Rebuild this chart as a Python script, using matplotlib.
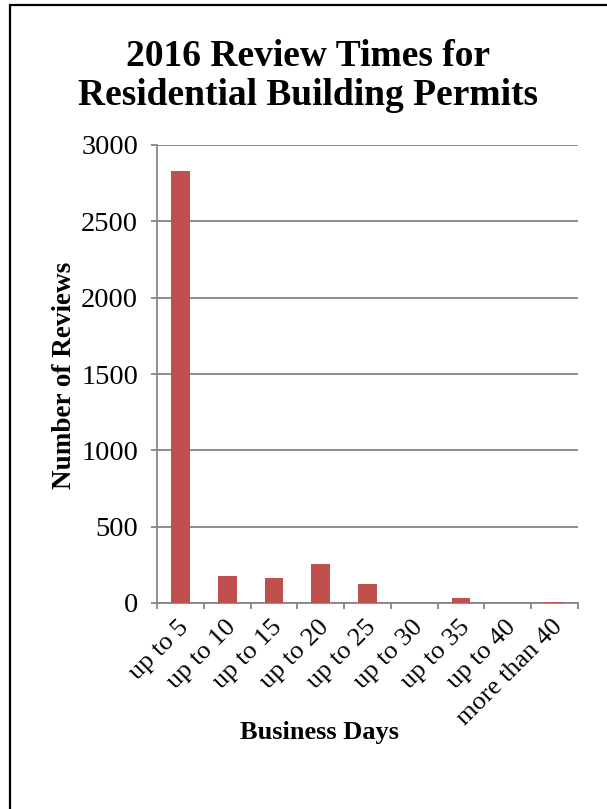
import matplotlib.pyplot as plt
from matplotlib.patches import Rectangle
from matplotlib.transforms import ScaledTranslation

categories = ['up to 5', 'up to 10', 'up to 15', 'up to 20', 'up to 25',
              'up to 30', 'up to 35', 'up to 40', 'more than 40']
reviews = [2829, 177, 162, 253, 127, 0, 31, 0, 7]

plt.rcParams['font.family'] = ['Liberation Serif', 'DejaVu Serif']

fig = plt.figure(figsize=(6.07, 8.09), dpi=100)
ax = fig.add_axes([157 / 607, 1 - 603 / 809, 421 / 607, 458 / 809])

x = range(len(categories))
ax.bar(x, reviews, width=0.4, color='#C0504D', zorder=3)

ax.set_xlim(-0.5, len(categories) - 0.5)
ax.set_ylim(0, 3000)
ax.set_yticks(range(0, 3001, 500))
ax.yaxis.grid(True, color='#868686', linewidth=1.3, zorder=0)

# category labels in the middle, tick marks on the boundaries
ax.set_xticks(list(x))
ax.set_xticklabels(categories, rotation=45, ha='right', va='center',
                   rotation_mode='anchor')
ax.set_xticks([i - 0.5 for i in range(len(categories) + 1)], minor=True)
ax.tick_params(axis='x', which='major', length=0, labelsize=19, pad=15)
ax.tick_params(axis='x', which='minor', length=4.5, width=1.3, color='#868686')
ax.tick_params(axis='y', length=4.5, width=1.3, color='#868686', labelsize=20.5, pad=9)

shift = ScaledTranslation(5 / 100, 0, fig.dpi_scale_trans)
for lbl in ax.get_xticklabels():
    lbl.set_transform(lbl.get_transform() + shift)

for side in ['top', 'right']:
    ax.spines[side].set_visible(False)
for side in ['left', 'bottom']:
    ax.spines[side].set_color('#868686')
    ax.spines[side].set_linewidth(1.3)

ax.set_ylabel('Number of Reviews', fontsize=19.5, fontweight='bold')
ax.yaxis.set_label_coords(-0.19, 0.497)
fig.text(320 / 607, 1 - 732 / 809, 'Business Days', ha='center', va='center',
         fontsize=19, fontweight='bold')

fig.text(0.508, 1 - 76 / 809, '2016 Review Times for\nResidential Building Permits',
         ha='center', va='center', fontsize=27, fontweight='bold', linespacing=1.12)

# outer chart frame
fig.patches.append(Rectangle((9.5 / 607, -0.1), 1.2, 1.1 - 5.5 / 809,
                             transform=fig.transFigure, fill=False,
                             edgecolor='black', linewidth=1.6))

fig.savefig('out.png', dpi=100)
